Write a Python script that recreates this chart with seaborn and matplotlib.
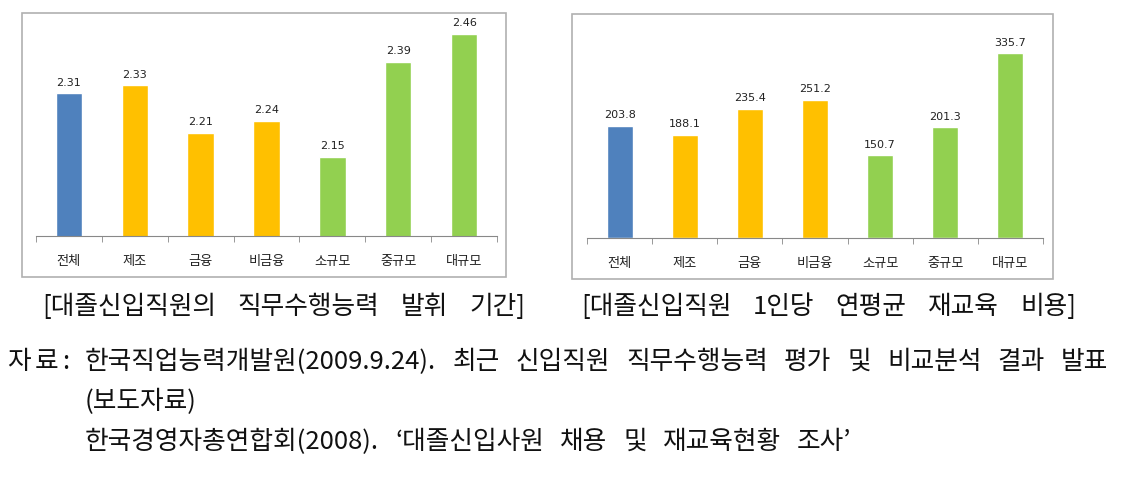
import numpy as np
import matplotlib
matplotlib.use("Agg")
import matplotlib.pyplot as plt
from matplotlib.patches import Rectangle
import seaborn as sns

categories = ['전체', '제조', '금융', '비금융', '소규모', '중규모', '대규모']
period_vals = [2.31, 2.33, 2.21, 2.24, 2.15, 2.39, 2.46]
cost_vals = [203.8, 188.1, 235.4, 251.2, 150.7, 201.3, 335.7]
bar_colors = ['#4F81BD', '#FFC000', '#FFC000', '#FFC000', '#92D050', '#92D050', '#92D050']

caption_left = '[대졸신입직원의 직무수행능력 발휘 기간]'
caption_right = '[대졸신입직원 1인당 연평균 재교육 비용]'
source_label = '자 료 :'
source_lines = ['한국직업능력개발원(2009.9.24). 최근 신입직원 직무수행능력 평가 및 비교분석 결과 발표',
                '(보도자료)',
                '한국경영자총연합회(2008). ‘대졸신입사원 채용 및 재교육현황 조사’']

sns.set_style('white')
plt.rcParams['font.family'] = ['Noto Sans CJK KR', 'DejaVu Sans']

W, H = 1129, 482
fig = plt.figure(figsize=(W / 100, H / 100), dpi=100)
renderer = fig.canvas.get_renderer()


def px_axes(x0, y0, x1, y1):
    return fig.add_axes([x0 / W, 1 - y1 / H, (x1 - x0) / W, (y1 - y0) / H])


def frame(x0, y0, x1, y1):
    fig.add_artist(Rectangle((x0 / W, 1 - y1 / H), (x1 - x0) / W, (y1 - y0) / H,
                             transform=fig.transFigure, fill=False,
                             edgecolor='#b0b0b0', lw=1.2))


def place_words(text, y, x0=None, x1=None, gap=None, size=18.5, weight='normal'):
    # lay the words out one by one so the wide word spacing of the original is kept
    words = text.split(' ')
    items = [fig.text(0, 1 - y / H, w, ha='left', va='center', fontsize=size,
                      fontweight=weight, color='#111111') for w in words]
    widths = [t.get_window_extent(renderer).width for t in items]
    if gap is None:
        gap = (x1 - x0 - sum(widths)) / (len(words) - 1)
    if x0 is None:
        x0 = x1 - sum(widths) - gap * (len(words) - 1)
    x = x0
    for t, w in zip(items, widths):
        t.set_x(x / W)
        x += w + gap
    return gap


def draw_bars(ax, vals, ylim, fmt):
    sns.barplot(x=categories, y=vals, hue=categories, palette=bar_colors,
                width=0.4, legend=False, ax=ax, saturation=1)
    ax.set_ylim(*ylim)
    ax.set_xlim(-0.5, 6.5)
    for c in ax.containers:
        ax.bar_label(c, fmt=fmt, padding=4, fontsize=8, color='#222222',
                     family='DejaVu Sans')
    for s in ['top', 'right', 'left']:
        ax.spines[s].set_visible(False)
    ax.spines['bottom'].set_color('#888888')
    ax.set_yticks([])
    ax.set_xticks(np.arange(-0.5, 7, 1), minor=True)
    ax.tick_params(axis='x', which='major', length=0, pad=14, labelsize=9.5,
                   labelcolor='#222222')
    ax.tick_params(axis='x', which='minor', length=4, color='#888888',
                   direction='out', bottom=True)
    ax.set_xlabel('')
    ax.set_ylabel('')
    ax.patch.set_alpha(0)


ax1 = px_axes(36, 18, 497, 236)
draw_bars(ax1, period_vals, (1.95, 2.5), '%.2f')
frame(22, 13, 506, 277)

ax2 = px_axes(587, 18, 1043, 238)
draw_bars(ax2, cost_vals, (0, 400), '%.1f')
frame(572, 14, 1053, 279)

cap_gap = place_words(caption_left, 307, x0=42, x1=525, weight='light')
place_words(caption_right, 307, x1=1076, gap=cap_gap, weight='light')

place_words(source_label, 362, x0=7, gap=4)
src_gap = place_words(source_lines[0], 362, x0=85, x1=1108)
place_words(source_lines[1], 402, x0=85, gap=src_gap)
place_words(source_lines[2], 442, x0=85, gap=src_gap)

fig.savefig('out.png', dpi=100, facecolor='white')
